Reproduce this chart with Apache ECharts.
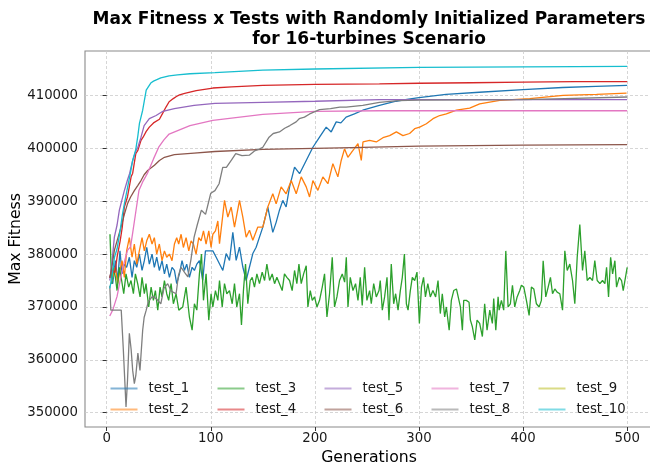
<!DOCTYPE html>
<html><head><meta charset="utf-8">
<script src="https://cdn.jsdelivr.net/npm/echarts@6/dist/echarts.min.js"></script>
<style>html,body{margin:0;padding:0;background:#fff}#c{width:650px;height:463px}</style>
</head><body><div id="c"></div>
<script>
// ---- data ----
const seriesNames = ['test_1','test_2','test_3','test_4','test_5','test_6','test_7','test_8','test_9','test_10'];
const colors = ['#1f77b4','#ff7f0e','#2ca02c','#d62728','#9467bd','#8c564b','#e377c2','#7f7f7f','#bcbd22','#17becf'];
const xTicks = [0,100,200,300,400,500];
const yTicks = [350000,360000,370000,380000,390000,400000,410000];

const t1Gen = [4.2,5.8,8.4,10.6,12.8,14.8,17,19.2,21.8,24.4,26.6,28.9,31.4,34,36.2,38.5,41,43.6,45.8,48.1,50.6,53.2,55.5,57.7,60.3,62.8,65.1,67.3,69.9,72.4,74.7,76.9,79.5,82.1,84.3,86.6,89.1,92.3,94.9,98.7,102,105.2,111.6,114.8,118,121.2,124.4,127.6,130.8,134,137.2,140.4,143.6,146.8,150,154.8,159.6,162.8,166,169.2,172.4,175.7,180.5,185.3,191.7,198.1,204.5,210.9,215.7,220.5,225,230,238,246,262,278,290,300,326,358,400,438,470,500];
const t1Val = [375000,374400,378750,375000,380600,376250,378100,377500,379400,375600,378750,377500,380000,376900,378750,381250,378100,380000,377500,379400,376900,378750,376250,378100,375600,377500,376900,374400,376250,378750,376900,378100,375600,377500,376900,378100,378750,375000,380600,380600,380600,379400,376900,380100,378800,384100,378800,381300,377550,375000,377550,380100,381300,383200,385100,388900,384100,386000,388300,390150,388900,392700,396450,395200,397700,400200,402100,404000,403100,405000,404800,405900,406500,407200,408100,408900,409300,409600,410200,410600,411100,411500,411700,411900];

const t2Gen = [4.2,5.8,8.4,10.6,12.8,14.8,17,19.2,21.8,24.4,26.6,28.9,31.4,34,36.2,38.5,41,43.6,45.8,48.1,50.6,53.2,55.5,57.7,60.3,62.8,65.1,67.3,69.2,71.5,73.7,76.3,78.9,81.1,83.3,85.9,88.5,90.7,93,95.5,98.1,100.3,102,104.5,106.8,108.4,113.2,116.4,119.6,122.8,127.6,130.8,134,137.2,140.4,145.2,150,154.8,159.6,162.8,167.6,172.4,177.3,182.1,186.9,191.7,194.9,198.1,202.9,207.7,212.5,217.3,222.1,225.3,228.5,231.7,236.6,241.4,244.6,246.2,252.6,259,265.4,271.8,278.3,284.6,291,295.9,300.7,307.1,313.5,319.9,326.3,336,348.7,358.3,377.6,406.4,438.5,470.6,499.4];
const t2Val = [374400,375600,377500,374400,376900,378750,375600,380600,383100,379400,381900,378100,380600,383100,380600,382500,383750,381900,383100,380000,381900,378750,380600,379400,380000,378750,381900,383100,381900,383750,381250,383100,380600,382500,381900,380000,383100,382500,384400,381900,384400,381250,383750,384400,386250,381970,390150,387000,388900,385100,390150,387000,383200,384500,382600,385100,385100,388900,391400,389500,392700,391400,393900,391400,394600,392700,390800,393900,392050,394600,393300,397100,394600,397700,399900,398300,399600,400900,397700,401200,401500,401200,402000,402400,403100,402400,402800,403700,404000,404650,405600,406200,406500,407200,407600,408400,409050,409400,410000,410200,410450];

const t3Gen = [3.2,4.8,6.4,8.4,10,12.2,14.4,16.4,18.6,21.2,23.4,25.7,27.6,29.8,32.1,34,36.2,37.8,40.4,42.7,44.9,46.8,49.1,51.3,53.2,55.5,57.7,59.6,61.9,64.1,66.7,69.3,
  73.1,76.3,79.5,82.1,84.3,86.6,89.1,91.1,93,95.5,98.1,100.3,102,104.5,106.8,108.4,111,113.2,115.4,118,120.6,122.8,125,127.6,129.5,131.4,133.4,135.6,137.9,139.8,142,144.3,146.8,149.4,151.7,153.9,156.5,159,161.3,163.5,166,168.6,170.8,173.1,175.7,178.2,180.5,182.7,184.7,186.9,189.2,191.7,193.3,195.6,197.5,199.7,202,204.5,207.1,209.3,211.6,214.1,216.7,218.9,221.2,223.7,
  226.3,228.6,230.2,231.8,234,236.6,239.1,241.4,243.6,245.5,247.8,250,252.6,254.2,256.5,259,261.6,262.8,264.8,267,269.3,271.2,273.4,275.7,277.6,279.9,282.1,284,286,287.9,289.5,291.7,293.6,295.9,298.1,300.4,302.4,304.4,306.2,308.5,310.9,313.4,316,318.3,320.5,322.4,324.7,326.3,329,331.1,333.4,336,337.5,339.8,341.7,343,345.5,348.1,349.4,351.3,353.6,355.8,358.3,360.9,363.1,365.4,368,370.5,371.8,373.8,376,
  377,379.2,381.4,383.4,385.6,387.8,389.8,392,394.3,396.8,398.4,400.7,403.2,405.8,408,410.3,412.8,415.4,417.6,419.3,421.8,424.1,426.3,428.3,430.5,432.7,435.3,437.9,440.1,442.4,444.9,447.5,449.7,452,454.5,457.1,459.3,461.6,464.1,466.7,468.9,471.2,473.8,476.3,478.6,480.2,482.1,484.1,486,488.2,489.8,492.4,494.6,496.2,497.9,500];
const t3Val = [383750,374400,377500,375600,373100,377500,375000,372500,376250,373750,375000,372500,376250,374400,371900,375600,372500,374400,370000,373750,371250,373100,369400,373750,371900,375000,372500,371250,374400,370600,372500,369400,
  370000,373750,368100,365600,370600,369400,376250,380000,371250,376250,367500,372500,370000,373100,371250,375000,370000,374400,372500,373100,370600,374400,370000,372500,366600,373100,378100,370600,375000,375600,373750,376250,374400,376600,375000,378100,375000,376250,374400,375600,374400,373100,376250,375600,375000,373100,376900,374400,378100,374400,376250,377800,370000,373100,371250,371900,370000,371250,373750,376250,368100,372500,379400,370000,371900,375000,
  376250,374700,379400,370000,375600,373100,374400,371250,375600,370300,377500,371250,373100,370600,374400,371900,373100,375000,369400,371900,375600,367500,378100,370600,372500,369400,373100,375600,380000,370600,369400,373100,375600,375000,376600,366900,373750,375600,371900,374400,371900,373100,371900,375000,368750,372500,368100,370000,365600,371250,373100,373400,373100,370000,365600,371250,371250,370900,367500,366250,363750,367500,366900,364400,370600,365600,369400,366900,371600,365600,371900,
  369400,371250,369400,380600,370000,370600,374100,370000,371900,373100,374100,373750,371250,368400,373750,373400,370600,370000,371250,378750,371900,373750,375600,372500,373400,372800,372500,369400,380600,376900,378100,375000,370600,379400,385600,376900,380600,375000,375600,375000,378750,375000,374400,375000,374400,377500,371900,379400,376250,378750,373750,375600,375000,373100,373100,377500];

const t4Gen = [3,5,8,10,13,15,17,20,23.5,25,28,30,33,35,38,41,45,50.7,54,57,60,64,67,70,75,86,102,120,150,200,262,300,350,400,450,500];
const t4Val = [375500,377000,376500,379400,382500,385100,388900,390800,394600,395300,399000,399600,401500,402100,403200,404000,404800,405500,406700,407800,408800,409400,409800,410100,410400,410900,411400,411600,411900,412100,412200,412300,412400,412500,412600,412600];

const t5Gen = [3,5,7.4,10,12.2,15,17,20,22,25,28,30,33,36,41,47.5,54,65,84,104,150,200,262,350,500];
const t5Val = [375000,378200,383200,385500,388300,390500,392000,394000,395200,397700,399500,400200,402100,404300,405600,406200,407000,407500,408100,408500,408700,408900,409200,409200,409200];

const t6Gen = [3,5,7.4,10,13.8,17,20,23,26.6,30,33,36,39.4,45.9,50.7,55.5,65,84,104,150,224,300,400,500];
const t6Val = [375500,377500,380700,382500,385100,387500,389500,390800,392000,393000,393900,395000,395800,396800,397700,398300,398800,399100,399400,399800,400100,400400,400600,400700];

const t7Gen = [3,6,10,14,17,20,23,25,28,31,35,39,45,50,55,60,70,80,102,150,200,262,350,500];
const t7Val = [368300,369500,372000,376000,378500,380700,381400,384000,388000,392000,393800,395200,398000,400200,401600,402700,403500,404300,405300,406400,407000,407100,407100,407100];

const t8Gen = [3,4,14,16,18.6,20,21.8,23.5,25,26.6,28,30,32,34.6,36,38,40,44,48,52,55,58.6,62,66.7,69,71.5,75,78,81,84,87,91,95,100,104,108,111.5,115,120,124,130,137,142,147,150,156,160,166,171,176,182,185,190,195,204.5,215,224,230,246,262,280,300,400,440,500];
const t8Val = [374000,369400,369400,362000,351100,356000,365000,362000,358000,355500,357000,361300,358000,365600,368000,369400,371000,372000,371500,370600,373500,374400,373000,372500,376000,377500,376500,375700,379000,383200,385500,388300,387500,391500,392000,393300,396400,396400,397800,399000,398600,398700,399500,399900,400200,402100,402800,403100,403800,404300,405000,405600,405900,406500,407300,407500,407800,407800,408100,408700,409000,409100,409200,409400,409700];

const t9Gen = [];
const t9Val = [];

const t10Gen = [3,5,7.5,10,13,15,17,20,23,25,28,30,31.5,34.6,38,40,42.7,45,52,60,68,80,104,150,200,300,400,500];
const t10Val = [373500,375500,379400,381000,384500,387300,389500,392500,395500,397700,399800,402400,404700,407200,411000,411600,412400,412700,413300,413700,413900,414100,414300,414800,415000,415300,415400,415500];

const gens = [t1Gen,t2Gen,t3Gen,t4Gen,t5Gen,t6Gen,t7Gen,t8Gen,t9Gen,t10Gen];
const vals = [t1Val,t2Val,t3Val,t4Val,t5Val,t6Val,t7Val,t8Val,t9Val,t10Val];

// ---- chart ----
const FONT = '"DejaVu Sans", sans-serif';
const chart = echarts.init(document.getElementById('c'), null, {renderer:'canvas'});

function zip(g, v){ const n = Math.min(g.length, v.length); const out=[]; for(let i=0;i<n;i++) out.push([g[i], v[i]]); return out; }

const series = seriesNames.map((name, i) => ({
  name, type:'line', data: zip(gens[i], vals[i]),
  showSymbol:false, symbol:'none',
  lineStyle:{width:1.3, color:colors[i]}, itemStyle:{color:colors[i]},
  z: 2 + i*0.01, animation:false
}));

const legendCols = [[0,1],[2,3],[4,5],[6,7],[8,9]];
const legendLeft = [110.5, 217.5, 324.5, 431.5, 538.5];
const legends = legendCols.map((pair, c) => ({
  orient:'vertical', left: legendLeft[c], top: 382, padding:0,
  itemWidth:27, itemHeight:2, itemGap:8, icon:'rect',
  itemStyle:{opacity:0.55},
  data: pair.map(i => seriesNames[i]),
  textStyle:{fontFamily:FONT, fontSize:13.3, color:'#1a1a1a', padding:[0,0,0,6]},
  selectedMode:false
}));

chart.setOption({
  animation:false,
  backgroundColor:'#fff',
  graphic:[{
    type:'text', x:369, y:9,
    style:{text:'Max Fitness x Tests with Randomly Initialized Parameters\nfor 16-turbines Scenario',
      align:'center', verticalAlign:'top', fontFamily:FONT, fontSize:17, fontWeight:'bold',
      lineHeight:20.5, fill:'#000'}
  }],
  grid:{left:85, top:51, width:568, height:376, show:true, borderColor:'#8a8a8a', borderWidth:1.1,
        containLabel:false, outerBoundsMode:'none'},
  legend: legends,
  xAxis:{
    type:'value', min:-20.8, max:524.8,
    name:'Generations', nameLocation:'middle', nameGap:23, nameMoveOverlap:false,
    nameTextStyle:{fontFamily:FONT, fontSize:15.7, color:'#000'},
    axisLine:{show:false},
    axisTick:{show:true, length:4, customValues:xTicks, lineStyle:{color:'#333', width:1}},
    axisLabel:{customValues:xTicks, formatter: v => String(v), fontFamily:FONT, fontSize:13.3, color:'#1a1a1a', margin:5},
    splitLine:{show:true, lineStyle:{type:[3,2], color:'#cccccc', width:0.8}}
  },
  yAxis:{
    type:'value', min:347300, max:418400,
    name:'Max Fitness', nameLocation:'middle', nameGap:61, nameMoveOverlap:false,
    nameTextStyle:{fontFamily:FONT, fontSize:15.7, color:'#000'},
    axisLine:{show:false},
    axisTick:{show:true, length:4, customValues:yTicks, lineStyle:{color:'#333', width:1}},
    axisLabel:{customValues:yTicks, formatter: v => String(v), fontFamily:FONT, fontSize:13.3, color:'#1a1a1a', margin:7},
    splitLine:{show:true, lineStyle:{type:[3,2], color:'#cccccc', width:0.8}}
  },
  series
});
</script></body></html>
